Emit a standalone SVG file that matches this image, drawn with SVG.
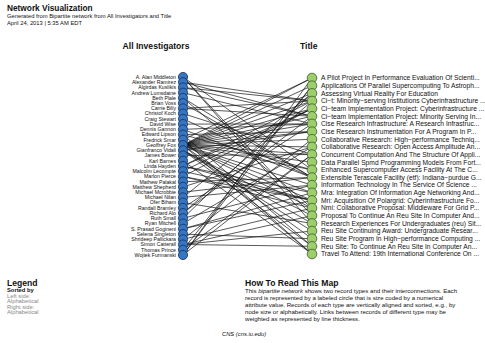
<svg xmlns="http://www.w3.org/2000/svg" width="485" height="343" viewBox="0 0 485 343">
<style>
text{font-family:"Liberation Sans",Arial,Helvetica,sans-serif;fill:#111}
.h1{font-size:8.3px;font-weight:bold}
.sub{font-size:5.8px}
.hd{font-size:8.6px;font-weight:bold}
.ll{font-size:5.2px;text-anchor:end}
.rl{font-size:6.7px}
.gray{fill:#888}
.body{font-size:6.1px}
#edges line{stroke:#111;stroke-width:0.7}
.ln{fill:#3476c4;stroke:#1b2f52;stroke-width:0.8}
.rn{fill:#9ccf6b;stroke:#3d5a2a;stroke-width:0.8}
</style>
<rect width="485" height="343" fill="#fff"/>
<g id="header">
<text class="h1" x="7" y="11">Network Visualization</text>
<text class="sub" x="7" y="18">Generated from Bipartite network from All Investigators and Title</text>
<text class="sub" x="7" y="24.5">April 24, 2013 | 5:35 AM EDT</text>
<text class="hd" x="156" y="49" text-anchor="middle">All Investigators</text>
<text class="hd" x="300" y="49">Title</text>
</g>
<g id="edges">
<line x1="183" y1="145.1" x2="312" y2="78"/>
<line x1="183" y1="145.1" x2="312" y2="85.7"/>
<line x1="183" y1="145.1" x2="312" y2="93.3"/>
<line x1="183" y1="145.1" x2="312" y2="101"/>
<line x1="183" y1="145.1" x2="312" y2="108.6"/>
<line x1="183" y1="145.1" x2="312" y2="116.3"/>
<line x1="183" y1="145.1" x2="312" y2="123.9"/>
<line x1="183" y1="145.1" x2="312" y2="131.6"/>
<line x1="183" y1="145.1" x2="312" y2="139.2"/>
<line x1="183" y1="145.1" x2="312" y2="146.9"/>
<line x1="183" y1="145.1" x2="312" y2="154.5"/>
<line x1="183" y1="145.1" x2="312" y2="162.2"/>
<line x1="183" y1="145.1" x2="312" y2="169.8"/>
<line x1="183" y1="145.1" x2="312" y2="185.1"/>
<line x1="183" y1="145.1" x2="312" y2="192.8"/>
<line x1="183" y1="145.1" x2="312" y2="200.4"/>
<line x1="183" y1="145.1" x2="312" y2="208.1"/>
<line x1="183" y1="145.1" x2="312" y2="238.7"/>
<line x1="183" y1="145.1" x2="312" y2="254"/>
<line x1="183" y1="77" x2="312" y2="215.7"/>
<line x1="183" y1="77" x2="312" y2="223.4"/>
<line x1="183" y1="77" x2="312" y2="169.8"/>
<line x1="183" y1="82.2" x2="312" y2="101"/>
<line x1="183" y1="82.2" x2="312" y2="116.3"/>
<line x1="183" y1="87.5" x2="312" y2="101"/>
<line x1="183" y1="87.5" x2="312" y2="116.3"/>
<line x1="183" y1="92.7" x2="312" y2="123.9"/>
<line x1="183" y1="97.9" x2="312" y2="177.5"/>
<line x1="183" y1="97.9" x2="312" y2="208.1"/>
<line x1="183" y1="103.2" x2="312" y2="177.5"/>
<line x1="183" y1="108.4" x2="312" y2="101"/>
<line x1="183" y1="108.4" x2="312" y2="116.3"/>
<line x1="183" y1="113.6" x2="312" y2="154.5"/>
<line x1="183" y1="118.9" x2="312" y2="177.5"/>
<line x1="183" y1="124.1" x2="312" y2="123.9"/>
<line x1="183" y1="129.4" x2="312" y2="123.9"/>
<line x1="183" y1="129.4" x2="312" y2="177.5"/>
<line x1="183" y1="134.6" x2="312" y2="131.6"/>
<line x1="183" y1="134.6" x2="312" y2="169.8"/>
<line x1="183" y1="134.6" x2="312" y2="246.3"/>
<line x1="183" y1="139.8" x2="312" y2="254"/>
<line x1="183" y1="139.8" x2="312" y2="78"/>
<line x1="183" y1="150.3" x2="312" y2="131.6"/>
<line x1="183" y1="150.3" x2="312" y2="215.7"/>
<line x1="183" y1="150.3" x2="312" y2="223.4"/>
<line x1="183" y1="150.3" x2="312" y2="231"/>
<line x1="183" y1="150.3" x2="312" y2="246.3"/>
<line x1="183" y1="155.5" x2="312" y2="154.5"/>
<line x1="183" y1="160.8" x2="312" y2="254"/>
<line x1="183" y1="166" x2="312" y2="101"/>
<line x1="183" y1="166" x2="312" y2="108.6"/>
<line x1="183" y1="166" x2="312" y2="192.8"/>
<line x1="183" y1="166" x2="312" y2="200.4"/>
<line x1="183" y1="171.2" x2="312" y2="108.6"/>
<line x1="183" y1="171.2" x2="312" y2="200.4"/>
<line x1="183" y1="176.5" x2="312" y2="108.6"/>
<line x1="183" y1="176.5" x2="312" y2="200.4"/>
<line x1="183" y1="176.5" x2="312" y2="208.1"/>
<line x1="183" y1="181.7" x2="312" y2="177.5"/>
<line x1="183" y1="186.9" x2="312" y2="146.9"/>
<line x1="183" y1="192.2" x2="312" y2="177.5"/>
<line x1="183" y1="197.4" x2="312" y2="185.1"/>
<line x1="183" y1="197.4" x2="312" y2="93.3"/>
<line x1="183" y1="202.6" x2="312" y2="223.4"/>
<line x1="183" y1="207.9" x2="312" y2="123.9"/>
<line x1="183" y1="213.1" x2="312" y2="101"/>
<line x1="183" y1="213.1" x2="312" y2="116.3"/>
<line x1="183" y1="218.3" x2="312" y2="185.1"/>
<line x1="183" y1="218.3" x2="312" y2="93.3"/>
<line x1="183" y1="223.6" x2="312" y2="146.9"/>
<line x1="183" y1="228.8" x2="312" y2="192.8"/>
<line x1="183" y1="228.8" x2="312" y2="200.4"/>
<line x1="183" y1="234.1" x2="312" y2="238.7"/>
<line x1="183" y1="239.3" x2="312" y2="139.2"/>
<line x1="183" y1="239.3" x2="312" y2="208.1"/>
<line x1="183" y1="244.5" x2="312" y2="215.7"/>
<line x1="183" y1="244.5" x2="312" y2="231"/>
<line x1="183" y1="244.5" x2="312" y2="246.3"/>
<line x1="183" y1="249.8" x2="312" y2="85.7"/>
<line x1="183" y1="249.8" x2="312" y2="154.5"/>
<line x1="183" y1="255" x2="312" y2="85.7"/>
<line x1="183" y1="255" x2="312" y2="154.5"/>
<line x1="183" y1="255" x2="312" y2="78"/>
</g>
<g id="left-nodes">
<g id="l0"><circle class="ln" cx="183" cy="77" r="4.6"/><text class="ll" x="176" y="78.8">A. Alan Middleton</text></g>
<g id="l1"><circle class="ln" cx="183" cy="82.2" r="4.6"/><text class="ll" x="176" y="84">Alexander Ramirez</text></g>
<g id="l2"><circle class="ln" cx="183" cy="87.5" r="4.6"/><text class="ll" x="176" y="89.3">Algirdas Kuslikis</text></g>
<g id="l3"><circle class="ln" cx="183" cy="92.7" r="4.6"/><text class="ll" x="176" y="94.5">Andrew Lumsdaine</text></g>
<g id="l4"><circle class="ln" cx="183" cy="97.9" r="4.6"/><text class="ll" x="176" y="99.7">Beth Plale</text></g>
<g id="l5"><circle class="ln" cx="183" cy="103.2" r="4.6"/><text class="ll" x="176" y="105">Brian Voss</text></g>
<g id="l6"><circle class="ln" cx="183" cy="108.4" r="4.6"/><text class="ll" x="176" y="110.2">Carrie Billy</text></g>
<g id="l7"><circle class="ln" cx="183" cy="113.6" r="4.6"/><text class="ll" x="176" y="115.4">Christof Koch</text></g>
<g id="l8"><circle class="ln" cx="183" cy="118.9" r="4.6"/><text class="ll" x="176" y="120.7">Craig Stewart</text></g>
<g id="l9"><circle class="ln" cx="183" cy="124.1" r="4.6"/><text class="ll" x="176" y="125.9">David Wise</text></g>
<g id="l10"><circle class="ln" cx="183" cy="129.4" r="4.6"/><text class="ll" x="176" y="131.2">Dennis Gannon</text></g>
<g id="l11"><circle class="ln" cx="183" cy="134.6" r="4.6"/><text class="ll" x="176" y="136.4">Edward Lipson</text></g>
<g id="l12"><circle class="ln" cx="183" cy="139.8" r="4.6"/><text class="ll" x="176" y="141.6">Fredrick Smar</text></g>
<g id="l13"><circle class="ln" cx="183" cy="145.1" r="4.6"/><text class="ll" x="176" y="146.9">Geoffrey Fox</text></g>
<g id="l14"><circle class="ln" cx="183" cy="150.3" r="4.6"/><text class="ll" x="176" y="152.1">Gianfranco Vidali</text></g>
<g id="l15"><circle class="ln" cx="183" cy="155.5" r="4.6"/><text class="ll" x="176" y="157.3">James Bower</text></g>
<g id="l16"><circle class="ln" cx="183" cy="160.8" r="4.6"/><text class="ll" x="176" y="162.6">Karl Barnes</text></g>
<g id="l17"><circle class="ln" cx="183" cy="166" r="4.6"/><text class="ll" x="176" y="167.8">Linda Hayden</text></g>
<g id="l18"><circle class="ln" cx="183" cy="171.2" r="4.6"/><text class="ll" x="176" y="173">Malcolm Lecompte</text></g>
<g id="l19"><circle class="ln" cx="183" cy="176.5" r="4.6"/><text class="ll" x="176" y="178.3">Marlon Pierce</text></g>
<g id="l20"><circle class="ln" cx="183" cy="181.7" r="4.6"/><text class="ll" x="176" y="183.5">Mathew Palakal</text></g>
<g id="l21"><circle class="ln" cx="183" cy="186.9" r="4.6"/><text class="ll" x="176" y="188.7">Matthew Shepherd</text></g>
<g id="l22"><circle class="ln" cx="183" cy="192.2" r="4.6"/><text class="ll" x="176" y="194">Michael Mcrobbie</text></g>
<g id="l23"><circle class="ln" cx="183" cy="197.4" r="4.6"/><text class="ll" x="176" y="199.2">Michael Nilan</text></g>
<g id="l24"><circle class="ln" cx="183" cy="202.6" r="4.6"/><text class="ll" x="176" y="204.4">Ofer Biham</text></g>
<g id="l25"><circle class="ln" cx="183" cy="207.9" r="4.6"/><text class="ll" x="176" y="209.7">Randall Bramley</text></g>
<g id="l26"><circle class="ln" cx="183" cy="213.1" r="4.6"/><text class="ll" x="176" y="214.9">Richard Alo</text></g>
<g id="l27"><circle class="ln" cx="183" cy="218.3" r="4.6"/><text class="ll" x="176" y="220.1">Ruth Small</text></g>
<g id="l28"><circle class="ln" cx="183" cy="223.6" r="4.6"/><text class="ll" x="176" y="225.4">Ryan Mitchell</text></g>
<g id="l29"><circle class="ln" cx="183" cy="228.8" r="4.6"/><text class="ll" x="176" y="230.6">S. Prasad Gogineni</text></g>
<g id="l30"><circle class="ln" cx="183" cy="234.1" r="4.6"/><text class="ll" x="176" y="235.9">Selena Singleton</text></g>
<g id="l31"><circle class="ln" cx="183" cy="239.3" r="4.6"/><text class="ll" x="176" y="241.1">Shrideep Pallickara</text></g>
<g id="l32"><circle class="ln" cx="183" cy="244.5" r="4.6"/><text class="ll" x="176" y="246.3">Simon Catterall</text></g>
<g id="l33"><circle class="ln" cx="183" cy="249.8" r="4.6"/><text class="ll" x="176" y="251.6">Thomas Prince</text></g>
<g id="l34"><circle class="ln" cx="183" cy="255" r="4.6"/><text class="ll" x="176" y="256.8">Wojtek Furmanski</text></g>
</g>
<g id="right-nodes">
<g id="r0"><circle class="rn" cx="312" cy="78" r="4.8"/><text class="rl" x="321" y="80.3">A Pilot Project In Performance Evaluation Of Scienti...</text></g>
<g id="r1"><circle class="rn" cx="312" cy="85.7" r="4.8"/><text class="rl" x="321" y="88">Applications Of Parallel Supercomputing To Astroph...</text></g>
<g id="r2"><circle class="rn" cx="312" cy="93.3" r="4.8"/><text class="rl" x="321" y="95.6">Assessing Virtual Reality For Education</text></g>
<g id="r3"><circle class="rn" cx="312" cy="101" r="4.8"/><text class="rl" x="321" y="103.3">Ci−t: Minority−serving Institutions Cyberinfrastructure ...</text></g>
<g id="r4"><circle class="rn" cx="312" cy="108.6" r="4.8"/><text class="rl" x="321" y="110.9">Ci−team Implementation Project: Cyberinfrastructure ...</text></g>
<g id="r5"><circle class="rn" cx="312" cy="116.3" r="4.8"/><text class="rl" x="321" y="118.6">Ci−team Implementation Project: Minority Serving In...</text></g>
<g id="r6"><circle class="rn" cx="312" cy="123.9" r="4.8"/><text class="rl" x="321" y="126.2">Cise Research Infrastructure: A Research Infrastruc...</text></g>
<g id="r7"><circle class="rn" cx="312" cy="131.6" r="4.8"/><text class="rl" x="321" y="133.9">Cise Research Instrumentation For A Program In P...</text></g>
<g id="r8"><circle class="rn" cx="312" cy="139.2" r="4.8"/><text class="rl" x="321" y="141.5">Collaborative Research: High−performance Techniq...</text></g>
<g id="r9"><circle class="rn" cx="312" cy="146.9" r="4.8"/><text class="rl" x="321" y="149.2">Collaborative Research: Open Access Amplitude An...</text></g>
<g id="r10"><circle class="rn" cx="312" cy="154.5" r="4.8"/><text class="rl" x="321" y="156.8">Concurrent Computation And The Structure Of Appli...</text></g>
<g id="r11"><circle class="rn" cx="312" cy="162.2" r="4.8"/><text class="rl" x="321" y="164.5">Data Parallel Spmd Programming Models From Fort...</text></g>
<g id="r12"><circle class="rn" cx="312" cy="169.8" r="4.8"/><text class="rl" x="321" y="172.1">Enhanced Supercomputer Access Facility At The C...</text></g>
<g id="r13"><circle class="rn" cx="312" cy="177.5" r="4.8"/><text class="rl" x="321" y="179.8">Extensible Terascale Facility (etf): Indiana−purdue G...</text></g>
<g id="r14"><circle class="rn" cx="312" cy="185.1" r="4.8"/><text class="rl" x="321" y="187.4">Information Technology In The Service Of Science ...</text></g>
<g id="r15"><circle class="rn" cx="312" cy="192.8" r="4.8"/><text class="rl" x="321" y="195.1">Mra: Integration Of Information Age Networking And...</text></g>
<g id="r16"><circle class="rn" cx="312" cy="200.4" r="4.8"/><text class="rl" x="321" y="202.7">Mri: Acquisition Of Polargrid: Cyberinfrastructure Fo...</text></g>
<g id="r17"><circle class="rn" cx="312" cy="208.1" r="4.8"/><text class="rl" x="321" y="210.4">Nmi: Collaborative Proposal: Middleware For Grid P...</text></g>
<g id="r18"><circle class="rn" cx="312" cy="215.7" r="4.8"/><text class="rl" x="321" y="218">Proposal To Continue An Reu Site In Computer And...</text></g>
<g id="r19"><circle class="rn" cx="312" cy="223.4" r="4.8"/><text class="rl" x="321" y="225.7">Research Experiences For Undergraduates (reu) Sit...</text></g>
<g id="r20"><circle class="rn" cx="312" cy="231" r="4.8"/><text class="rl" x="321" y="233.3">Reu Site Continuing Award: Undergraduate Resear...</text></g>
<g id="r21"><circle class="rn" cx="312" cy="238.7" r="4.8"/><text class="rl" x="321" y="241">Reu Site Program In High−performance Computing ...</text></g>
<g id="r22"><circle class="rn" cx="312" cy="246.3" r="4.8"/><text class="rl" x="321" y="248.6">Reu Site: To Continue An Reu Site In Computer An...</text></g>
<g id="r23"><circle class="rn" cx="312" cy="254" r="4.8"/><text class="rl" x="321" y="256.3">Travel To Attend: 19th International Conference On ...</text></g>
</g>
<g id="legend">
<text class="hd" x="7" y="286">Legend</text>
<text class="sub" x="7" y="292" font-weight="bold">Sorted by</text>
<text class="sub gray" x="7" y="297.5">Left side:</text>
<text class="sub gray" x="7" y="303">Alphabetical</text>
<text class="sub gray" x="7" y="308.5">Right side:</text>
<text class="sub gray" x="7" y="314">Alphabetical</text>
</g>
<g id="howto">
<text class="hd" x="245" y="286">How To Read This Map</text>
<text class="body" x="245" y="293">This <tspan font-style="italic">bipartite network</tspan> shows two record types and their interconnections. Each</text>
<text class="body" x="245" y="300">record is represented by a labeled circle that is size coded by a numerical</text>
<text class="body" x="245" y="307">attribute value. Records of each type are vertically aligned and sorted, e.g., by</text>
<text class="body" x="245" y="314">node size or alphabetically. Links between records of different type may be</text>
<text class="body" x="245" y="321">weighted as represented by line thickness.</text>
</g>
<g id="footer">
<text class="sub" x="222" y="336" font-style="italic">CNS (cns.iu.edu)</text>
</g>
</svg>
